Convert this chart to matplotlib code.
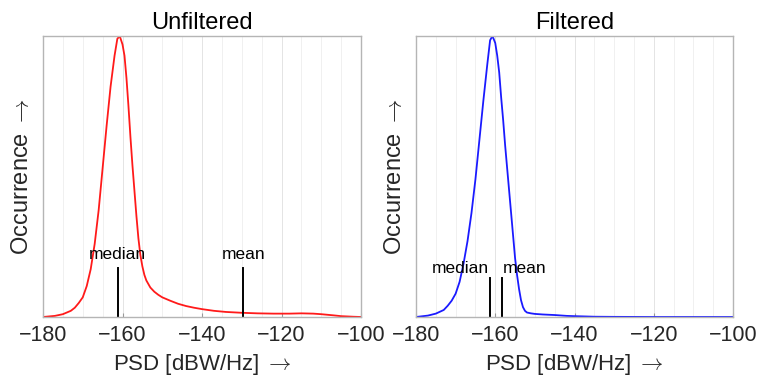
import numpy as np
import matplotlib
matplotlib.use('Agg')
import matplotlib.pyplot as plt
import matplotlib.transforms as mtransforms

plt.rcParams['font.family'] = ['Liberation Sans', 'DejaVu Sans']
plt.rcParams['mathtext.fontset'] = 'cm'

# estimated density curves (normalised to peak = 1)
psd_unf = [-180, -177, -175, -173, -172, -171, -170, -169, -168, -167, -166, -165, -164, -163, -162,
           -161.3, -160.7, -160, -159.5, -159, -158.5, -158, -157.5, -157, -156.5, -156, -155.5, -155,
           -154.5, -154, -153, -152, -151, -150, -148, -146, -144, -142, -140, -137, -134, -130, -126,
           -122, -118, -115, -112, -110, -107, -105, -102, -100]
occ_unf = [0, 0.004, 0.01, 0.022, 0.033, 0.05, 0.07, 0.11, 0.17, 0.26, 0.38, 0.53, 0.68, 0.82, 0.93,
           0.99, 1.0, 0.97, 0.93, 0.85, 0.75, 0.64, 0.54, 0.45, 0.36, 0.28, 0.22, 0.18,
           0.15, 0.13, 0.105, 0.09, 0.079, 0.07, 0.058, 0.047, 0.039, 0.033, 0.028, 0.022, 0.018, 0.015, 0.013,
           0.012, 0.012, 0.013, 0.012, 0.01, 0.006, 0.003, 0.001, 0]

psd_filt = [-180, -177, -175, -173, -172, -171, -170, -169, -168, -167, -166, -165, -164, -163, -162,
            -161.3, -160.7, -160, -159.5, -159, -158.5, -158, -157.5, -157, -156.5, -156, -155.5, -155,
            -154.5, -154, -153.5, -153, -152.5, -152, -151, -150, -148, -145, -142, -140, -135, -130,
            -120, -100]
occ_filt = [0, 0.005, 0.012, 0.025, 0.04, 0.058, 0.083, 0.125, 0.19, 0.27, 0.37, 0.49, 0.63, 0.77, 0.9,
            0.985, 1.0, 0.975, 0.93, 0.87, 0.78, 0.70, 0.61, 0.53, 0.45, 0.37, 0.29, 0.21,
            0.15, 0.1, 0.06, 0.035, 0.022, 0.016, 0.013, 0.011, 0.009, 0.007, 0.004, 0.003, 0.001, 0.0005,
            0.0, 0.0]

median_unf, mean_unf = -161.2, -129.6
median_filt, mean_filt = -161.2, -158.35

titles = ['Unfiltered', 'Filtered']
xticks = [-180, -160, -140, -120, -100]

fig = plt.figure(figsize=(7.61, 3.82), dpi=100)
ax1 = fig.add_axes([43/761, 65/382, 318/761, 281/382])
ax2 = fig.add_axes([416/761, 65/382, 317/761, 281/382])

txtc = '#262626'


def style_axes(ax, title):
  ax.set_xlim(-180, -100)
  ax.set_ylim(0, 1.0)
  ax.set_yticks([])
  ax.set_xticks(xticks)
  ax.set_xticklabels(['\u2212%d' % abs(t) for t in xticks], fontsize=15.5, color=txtc)
  ax.set_xticks(np.arange(-175, -100, 5), minor=True)
  ax.tick_params(axis='x', which='major', direction='in', length=3, color='#999999', pad=6)
  ax.tick_params(axis='x', which='minor', length=0)
  ax.grid(True, which='major', axis='x', color='#e4e4e4', lw=0.7)
  ax.grid(True, which='minor', axis='x', color='#f0f0f0', lw=0.7)
  ax.set_axisbelow(True)
  for s in ax.spines.values():
    s.set_color('#b5b5b5')
    s.set_linewidth(1.0)
  ax.set_title(title, fontsize=17, color='k', pad=5)
  ax.set_xlabel('PSD [dBW/Hz] $\\rightarrow$', fontsize=16, color=txtc, labelpad=4)
  ax.set_ylabel('Occurrence $\\rightarrow$', fontsize=17, color=txtc, labelpad=7)


style_axes(ax1, titles[0])
style_axes(ax2, titles[1])

ax1.plot(psd_unf, occ_unf, color='#ff1a1a', lw=1.3)
ax2.plot(psd_filt, occ_filt, color='#1a1aff', lw=1.3)

# median / mean markers
tr1 = mtransforms.blended_transform_factory(ax1.transData, ax1.transAxes)
ax1.axvline(median_unf, ymin=0, ymax=0.174, color='k', lw=1.4)
ax1.axvline(mean_unf, ymin=0, ymax=0.174, color='k', lw=1.4)
ax1.text(median_unf, 0.224, 'median', transform=tr1, ha='center', va='center', fontsize=12.5, color='k')
ax1.text(mean_unf, 0.224, 'mean', transform=tr1, ha='center', va='center', fontsize=12.5, color='k')

tr2 = mtransforms.blended_transform_factory(ax2.transData, ax2.transAxes)
ax2.axvline(median_filt, ymin=0, ymax=0.138, color='k', lw=1.4)
ax2.axvline(mean_filt, ymin=0, ymax=0.138, color='k', lw=1.4)
ax2.text(median_filt - 0.3, 0.174, 'median', transform=tr2, ha='right', va='center', fontsize=12.5, color='k')
ax2.text(mean_filt + 0.3, 0.174, 'mean', transform=tr2, ha='left', va='center', fontsize=12.5, color='k')

fig.savefig('out.png', dpi=100)
